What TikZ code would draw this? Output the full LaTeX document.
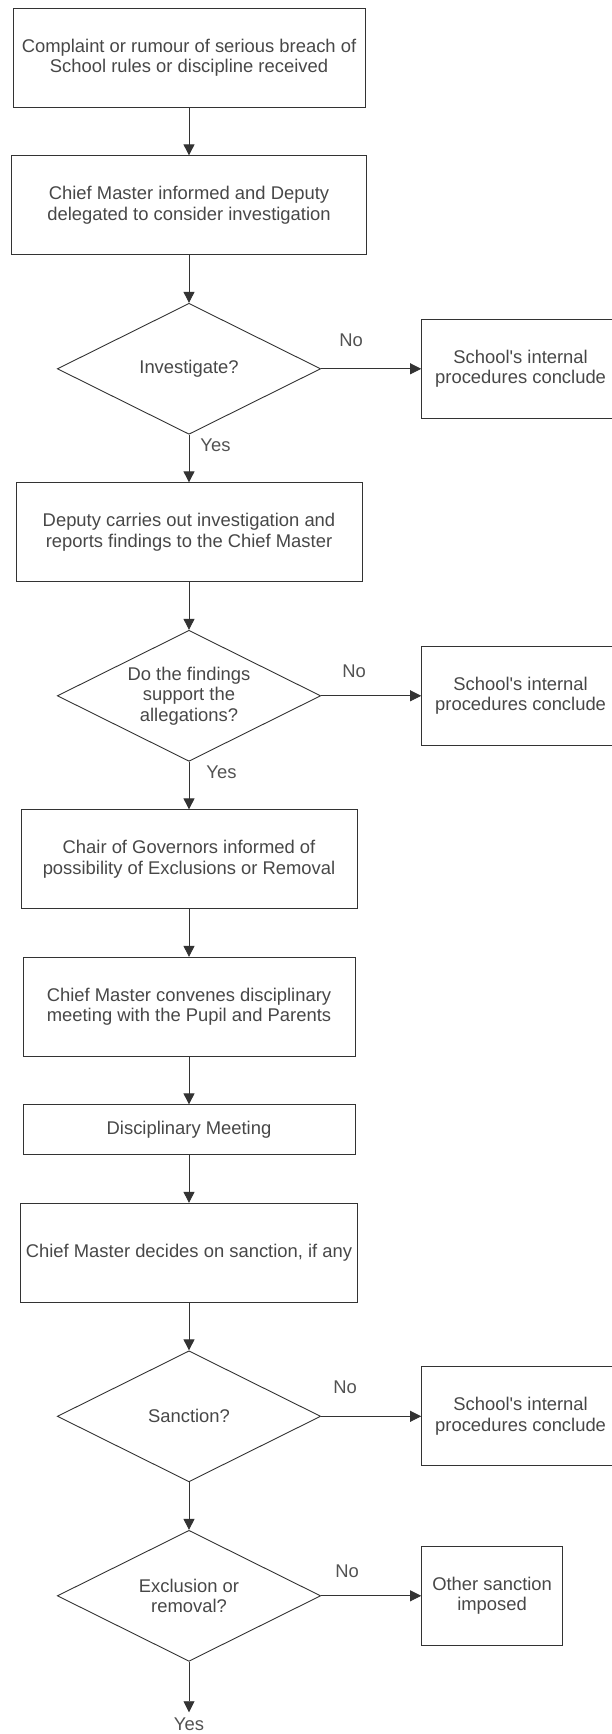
\documentclass[tikz,border=0pt]{standalone}
\usepackage{fontspec}
\setmainfont{Liberation Sans}[Ligatures=TeXOff]
\usetikzlibrary{positioning,shapes.geometric,arrows.meta}

\tikzset{
  stepbox/.style={rectangle, draw=black!80, line width=0.9pt, text=black!72, align=center, minimum height=99pt, inner sep=2pt},
  askbox/.style={diamond, aspect=2, draw=black!80, line width=0.9pt, text=black!72, align=center, minimum width=263.4pt, minimum height=131pt, inner sep=0pt},
  endbox/.style={rectangle, draw=black!80, line width=0.9pt, text=black!72, align=center, minimum height=99pt, inner sep=2pt},
  lbl/.style={text=black!68, inner sep=2pt},
  flow/.style={-{Triangle[length=11pt,width=11pt]}, draw=black!80, line width=0.9pt}
}

\begin{document}
\begin{tikzpicture}[x=1pt, y=1pt, node distance=47.6pt, font=\fontsize{18.4}{20.5}\selectfont]
        \clip (0,0) rectangle (612,-1734);

        \node[stepbox, minimum width=352pt] (b1) at (189,-57.8) {Complaint or rumour of serious breach of\\School rules or discipline received};
        \node[stepbox, below=of b1, minimum width=354.7pt] (b2) {Chief Master informed and Deputy\\delegated to consider investigation};
        \node[askbox, below=of b2] (q1) {Investigate?};
        \node[endbox, right=100pt of q1, minimum width=198pt] (e1) {School's internal\\procedures conclude};
        \node[stepbox, below=of q1, minimum width=346pt] (b3) {Deputy carries out investigation and\\reports findings to the Chief Master};
        \node[askbox, below=of b3] (q2) {Do the findings\\support the\\allegations?};
        \node[endbox, right=100pt of q2, minimum width=198pt] (e2) {School's internal\\procedures conclude};
        \node[stepbox, below=of q2, minimum width=336pt] (b4) {Chair of Governors informed of\\possibility of Exclusions or Removal};
        \node[stepbox, below=of b4, minimum width=332pt] (b5) {Chief Master convenes disciplinary\\meeting with the Pupil and Parents};
        \node[stepbox, below=of b5, minimum width=332pt, minimum height=50pt] (b6) {Disciplinary Meeting};
        \node[stepbox, below=of b6, minimum width=336.5pt] (b7) {Chief Master decides on sanction, if any};
        \node[askbox, below=of b7] (q3) {Sanction?};
        \node[endbox, right=100pt of q3, minimum width=198pt] (e3) {School's internal\\procedures conclude};
        \node[askbox, below=of q3] (q4) {Exclusion or\\removal?};
        \node[endbox, right=100pt of q4, minimum width=141pt] (e4) {Other sanction\\imposed};
        \node[lbl, below=50.5pt of q4, outer sep=4pt] (yes) {Yes};

        \draw[flow] (b1) -- (b2);
        \draw[flow] (b2) -- (q1);
        \draw[flow] (q1) -- node[lbl, pos=0.3, above=20pt] {No} (e1);
        \draw[flow] (q1) -- node[lbl, pos=0.22, right=9pt] {Yes} (b3);
        \draw[flow] (b3) -- (q2);
        \draw[flow] (q2) -- node[lbl, pos=0.33, above=16pt] {No} (e2);
        \draw[flow] (q2) -- node[lbl, pos=0.22, right=15pt] {Yes} (b4);
        \draw[flow] (b4) -- (b5);
        \draw[flow] (b5) -- (b6);
        \draw[flow] (b6) -- (b7);
        \draw[flow] (b7) -- (q3);
        \draw[flow] (q3) -- node[lbl, pos=0.24, above=20pt] {No} (e3);
        \draw[flow] (q3) -- (q4);
        \draw[flow] (q4) -- node[lbl, pos=0.26, above=16pt] {No} (e4);
        \draw[flow] (q4) -- (yes);
      \end{tikzpicture}
\end{document}
